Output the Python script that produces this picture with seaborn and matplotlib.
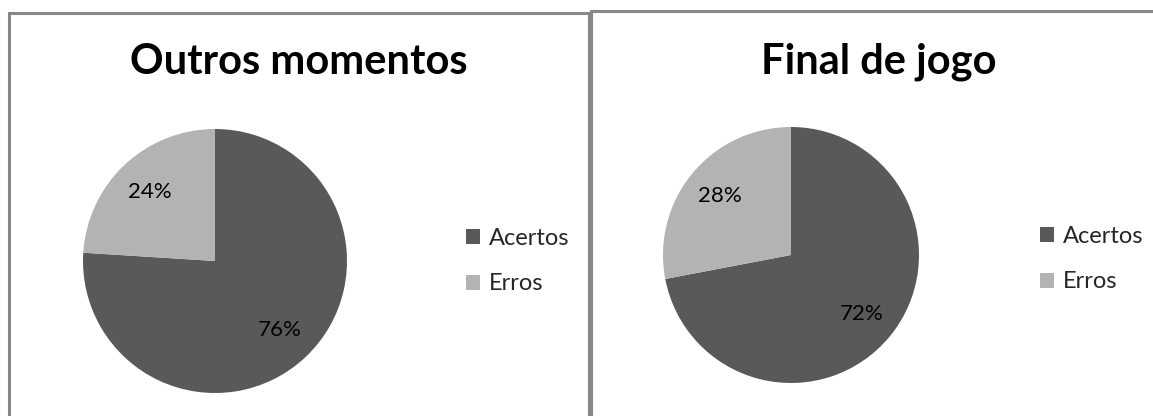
import matplotlib
matplotlib.use("Agg")
import matplotlib.pyplot as plt
import seaborn as sns
from matplotlib.patches import Rectangle

sns.set_theme(style="white")
plt.rcParams["font.family"] = ["Lato", "DejaVu Sans"]

# data
titles = ["Outros momentos", "Final de jogo"]
labels = ["Acertos", "Erros"]
outros = [76, 24]
final = [72, 28]
colors = ["#595959", "#b3b3b3"]

W, H = 1153, 416
fig = plt.figure(figsize=(W / 100, H / 100), dpi=100)

def px_axes(x0, y0, w, h):
    # pixel box (top-left origin) -> figure fraction
    return fig.add_axes([x0 / W, 1 - (y0 + h) / H, w / W, h / H])

# panel borders
for (x0, y0, x1) in [(9, 13, 589), (591, 11, 1160)]:
    fig.patches.append(Rectangle((x0 / W, -0.1), (x1 - x0) / W, 1 - y0 / H + 0.1,
                                 transform=fig.transFigure, fill=False,
                                 edgecolor="#878787", linewidth=2.2))

panels = [
    (titles[0], outros, (215, 261, 132), (299, 62), (466, 238)),
    (titles[1], final, (791, 255, 128), (879, 62), (1040, 236)),
]

for title, vals, (cx, cy, r), (tx, ty), (lx, ly) in panels:
    ax = px_axes(cx - r, cy - r, 2 * r, 2 * r)
    wedges, _, autotexts = ax.pie(vals, colors=colors, startangle=90, counterclock=False,
                                  autopct="%d%%", pctdistance=0.72,
                                  wedgeprops=dict(linewidth=0))
    for t in autotexts:
        t.set_fontsize(16)
        t.set_color("black")
    ax.set_xlim(-1, 1)
    ax.set_ylim(-1, 1)
    ax.set_aspect("equal")
    ax.axis("off")
    fig.text(tx / W, 1 - ty / H, title, ha="center", va="center",
             fontsize=30, fontweight="bold", color="black")
    fig.legend(wedges, labels, loc="center left",
               bbox_to_anchor=(lx / W, 1 - (ly + 23) / H),
               frameon=False, fontsize=17, handlelength=0.6, handleheight=0.6,
               handletextpad=0.35, labelspacing=1.05, borderpad=0, borderaxespad=0)

fig.savefig("out.png", dpi=100)
